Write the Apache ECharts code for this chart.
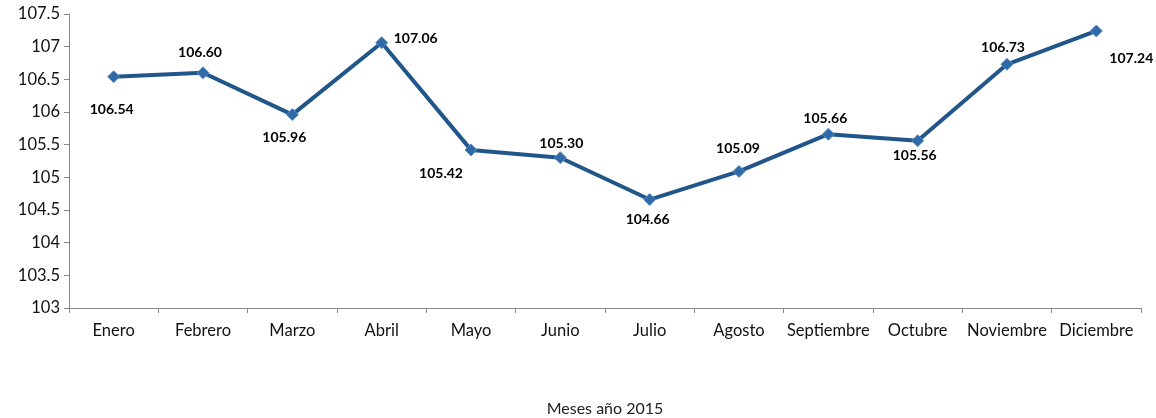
<!DOCTYPE html>
<html>
<head>
<meta charset="utf-8">
<script src="https://cdn.jsdelivr.net/npm/echarts@6/dist/echarts.min.js"></script>
<style>
  html, body { margin: 0; padding: 0; background: #fff; }
  #main { width: 1156px; height: 418px; }
</style>
</head>
<body>
<div id="main"></div>
<script>
// meses y valores
var months = ['Enero', 'Febrero', 'Marzo', 'Abril', 'Mayo', 'Junio', 'Julio', 'Agosto', 'Septiembre', 'Octubre', 'Noviembre', 'Diciembre'];
var values = [106.54, 106.60, 105.96, 107.06, 105.42, 105.30, 104.66, 105.09, 105.66, 105.56, 106.73, 107.24];
// donde va cada etiqueta (posicion relativa al punto)
var labelOffsets = [[-2, 33], [-3, -20], [-8, 23], [34, -4], [-30, 24], [1, -14], [-2, 20], [-1, -23], [-3, -16], [-3, 15], [-4, -17], [35, 27]];

var chart = echarts.init(document.getElementById('main'));

var data = values.map(function (v, i) {
  return {
    value: v,
    label: { offset: labelOffsets[i] }
  };
});

var option = {
  animation: false,
  textStyle: { fontFamily: 'Lato' },
  grid: { left: 69, right: 15, top: 14, bottom: 110, containLabel: false, outerBoundsMode: 'none' },
  xAxis: {
    type: 'category',
    data: months,
    boundaryGap: true,
    name: 'Meses año 2015',
    nameLocation: 'middle',
    nameGap: 93,
    nameTextStyle: { color: '#222', fontSize: 16, fontFamily: 'Lato' },
    axisLine: { lineStyle: { color: '#888', width: 1 } },
    axisTick: { show: true, alignWithLabel: false, length: 5, lineStyle: { color: '#888' } },
    axisLabel: { color: '#111', fontSize: 16.5, margin: 14, interval: 0 },
    splitLine: { show: false }
  },
  yAxis: {
    type: 'value',
    min: 103,
    max: 107.5,
    interval: 0.5,
    axisLine: { show: true, lineStyle: { color: '#888', width: 1 } },
    axisTick: { show: true, length: 5, lineStyle: { color: '#888' } },
    axisLabel: { color: '#111', fontSize: 16.5, margin: 9 },
    splitLine: { show: false }
  },
  series: [{
    type: 'line',
    data: data,
    symbol: 'diamond',
    symbolSize: 12,
    lineStyle: { color: '#21568a', width: 4 },
    itemStyle: { color: '#2f6aa6', borderColor: '#5a8cc4', borderWidth: 1 },
    label: {
      show: true,
      position: 'inside',
      formatter: function (p) { return p.value.toFixed(2); },
      color: '#000',
      fontWeight: 'bold',
      fontSize: 14,
      fontFamily: 'Lato'
    }
  }]
};

chart.setOption(option);
</script>
</body>
</html>
